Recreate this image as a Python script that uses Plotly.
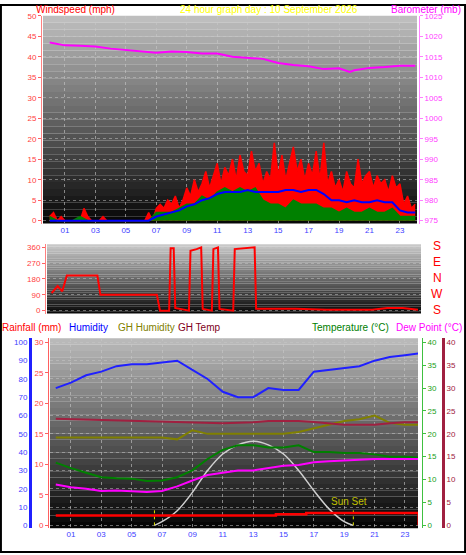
import plotly.graph_objects as go

W, H = 466, 555
def py(p): return 1 - p / H
def px(p): return p / W

# ---------------- data ----------------
gust_t = [i * 0.25 for i in range(97)]
gust = [1,2,0,1, 0,0,0,0, 0,3,1,0, 0,0,1,0, 0,0,0,0, 0,0,0,0, 0,0,2,0,
        3,4,3,5, 4,6,3,5, 8,6,10,7, 9,12,8,11, 14,9,13,11, 15,10,16,12,
        11,17,12,14, 9,12,10,19, 11,16,10,14, 18,12,15,10, 14,11,17,10,
        19,9,12,8, 10,7,12,9, 8,15,9,11, 12,8,11,9, 10,7,11,8, 9,4,6,3, 4]
half_t = [i * 0.5 for i in range(49)]
avg_speed = [1,0,0,0,1,0,0,0,0,0,0,0,0,0,2,2,2,3,4,4,6,5,7,8,7,8,7,8,5,4,4,3,5,4,4,4,3,3,2,3,2,2,3,2,2,3,1,1,1]
avg_line = [0,0,0,0,0,0,0,0,0,0,0,0,0,0,1,1.5,2,2.5,3.5,4,5,5.5,6.5,7,7,7,7.5,7,7,7,7,7.5,7.5,7,7.5,7.5,6.5,5,5,4.5,5,4.5,4.5,5,4.5,4.5,2.5,2,2]
baro_t = [0,1,2,3,4,5,6,7,8,9,10,11,12,13,14,15,16,17,18,19,19.7,20,21,22,23,24]
baro = [1018.5,1017.8,1017.7,1017.5,1017,1016.7,1016.3,1016,1016.3,1016.2,1015.8,1015.8,1015,1014.8,1014.5,1013.5,1013,1012.7,1012,1012.2,1011.3,1011.7,1012.3,1012.5,1012.8,1012.8]

dir_t = [0,0.4,0.7,1,3,3.2,6.9,7.1,7.7,7.8,8,8.1,9,9.1,9.5,9.8,9.9,10.5,10.6,10.9,11,11.9,12,13,13.3,13.4,16,18,21,22,23,24]
wdir = [100,140,110,200,200,90,90,0,0,355,355,15,0,340,350,360,10,0,350,360,10,0,350,360,360,10,10,5,5,15,15,5]

hours = list(range(25))
humidity = [75,78,82,84,87,88,88,89,90,85,80,73,70,70,75,74,74,84,85,86,87,90,92,93,94]
gh_hum = [48,48,48,48,48,48,48,48,47,52,50,50,50,50,50,50,51,53,55,57,58,60,56,55,55]
gh_temp = [23.3,23.2,23.1,23,22.9,22.8,22.8,22.7,22.6,22.5,22.3,22.3,22.4,22.5,22.8,22.8,22.8,22.6,22.3,22,22,22,22.3,22.5,22.5]
temp = [13.7,12.5,11.5,10.5,10.3,10.2,9.7,9.8,10.5,12,14.5,16.5,17.5,17.5,17,17,17.5,16,16,15.8,15.8,15.5,15,15,14.8]
dew = [8.9,8.3,8,7.5,7.6,7.5,7.3,7.5,8.5,9.8,11,11.5,12,12,12.5,13,13.2,13.8,14,14.2,14.3,14.5,14.5,14.5,14.5]
rain_t = [0,14.5,16.5,23.9,23.9]
rain = [1.6,1.8,2.0,2.0,0]
solar_t = [6.5,7,8,9,10,11,12,13,14,15,16,17,18,19,19.6]
solar = [0,2,8,18,30,39,44,46,44,39,30,19,9,2,0]
sun_events = [6.5, 19.6]

odd = list(range(1, 24, 2))
odd_txt = ["%02d" % h for h in odd]

fig = go.Figure()
FONT = "Liberation Sans"

# top panel
fig.add_trace(go.Scatter(x=gust_t, y=gust, xaxis="x", yaxis="y", mode="lines", line=dict(color="#ff0000", width=1.5), fill="tozeroy", fillcolor="#ff0000"))
fig.add_trace(go.Scatter(x=half_t, y=avg_speed, xaxis="x", yaxis="y", mode="lines", line=dict(color="#008000", width=1.5), fill="tozeroy", fillcolor="#008000"))
fig.add_trace(go.Scatter(x=half_t, y=avg_line, xaxis="x", yaxis="y", mode="lines", line=dict(color="#0000ff", width=2)))
fig.add_trace(go.Scatter(x=baro_t, y=baro, xaxis="x", yaxis="y2", mode="lines", line=dict(color="#ff00ff", width=2)))
# middle
fig.add_trace(go.Scatter(x=dir_t, y=wdir, xaxis="x2", yaxis="y3", mode="lines", line=dict(color="#ff0000", width=2)))
# bottom
fig.add_trace(go.Scatter(x=hours, y=humidity, xaxis="x3", yaxis="y4", mode="lines", line=dict(color="#2020ff", width=2)))
fig.add_trace(go.Scatter(x=hours, y=gh_hum, xaxis="x3", yaxis="y4", mode="lines", line=dict(color="#808000", width=2)))
fig.add_trace(go.Scatter(x=solar_t, y=solar, xaxis="x3", yaxis="y4", mode="lines", line=dict(color="#d0d0d0", width=1.5, shape="spline")))
for s in sun_events:
    fig.add_trace(go.Scatter(x=[s, s], y=[0, 9], xaxis="x3", yaxis="y4", mode="lines", line=dict(color="#e0e000", width=1, dash="dot")))
fig.add_trace(go.Scatter(x=hours, y=gh_temp, xaxis="x3", yaxis="y7", mode="lines", line=dict(color="#a02040", width=2)))
fig.add_trace(go.Scatter(x=hours, y=temp, xaxis="x3", yaxis="y6", mode="lines", line=dict(color="#008000", width=2)))
fig.add_trace(go.Scatter(x=hours, y=dew, xaxis="x3", yaxis="y6", mode="lines", line=dict(color="#ff00ff", width=2)))
fig.add_trace(go.Scatter(x=rain_t, y=rain, xaxis="x3", yaxis="y5", mode="lines", line=dict(color="#ff0000", width=2.5, shape="hv")))

# gradient backgrounds
shapes = []
def grad(xr, yr, top, bot, n=30):
    for i in range(n):
        f = i / (n - 1)
        v = int(top + (bot - top) * f)
        shapes.append(dict(type="rect", xref=xr + " domain", yref=yr + " domain", x0=0, x1=1,
                           y0=1 - (i + 1) / n, y1=1 - i / n, fillcolor="rgb(%d,%d,%d)" % (v, v, v),
                           line=dict(width=0), layer="below"))
grad("x", "y", 190, 8)
grad("x2", "y3", 200, 10)
grad("x3", "y4", 185, 5)
shapes.append(dict(type="rect", xref="paper", yref="paper", x0=0.002, x1=0.998, y0=0.002, y1=0.998, line=dict(color="black", width=2)))

gx = dict(showgrid=True, gridcolor="rgba(200,200,200,0.6)", griddash="dot", gridwidth=1, zeroline=False)
tickf = lambda c: dict(family=FONT, size=8, color=c)

fig.update_layout(
    width=W, height=H, margin=dict(l=0, r=0, t=0, b=0), showlegend=False,
    paper_bgcolor="white", plot_bgcolor="rgba(0,0,0,0)", shapes=shapes,
    xaxis=dict(domain=[px(43), px(417)], range=[-0.44, 24.12], anchor="y", tickvals=odd, ticktext=odd_txt,
               tickfont=tickf("#4040ff"), ticks="", **gx),
    yaxis=dict(domain=[py(222), py(12)], range=[-0.72, 50.0], anchor="free", position=px(41), dtick=5,
               tickfont=tickf("#ff4040"), ticks="outside", ticklen=3, tickcolor="#ff6060", showline=True,
               linecolor="#ff8080", griddash="dot", gridcolor="rgba(200,200,200,0.5)", zeroline=False),
    yaxis2=dict(overlaying="y", side="right", anchor="free", position=px(419), range=[974.28, 1025.0], dtick=5,
                tickfont=tickf("#ff40ff"), ticks="outside", ticklen=3, tickcolor="#ff80ff", showline=True,
                linecolor="#ff80ff", showgrid=False, zeroline=False),
    xaxis2=dict(domain=[px(47), px(421)], range=[-0.3, 24.2], anchor="y3", showticklabels=False, ticks="",
                tickvals=odd, showgrid=False, zeroline=False),
    yaxis3=dict(domain=[py(313), py(243)], range=[-17, 377], anchor="free", position=px(45), tickvals=[0, 90, 180, 270, 360],
                tickfont=tickf("#ff4040"), ticks="outside", ticklen=3, tickcolor="#ff6060", showline=True, linecolor="#ff8080",
                gridcolor="rgba(200,200,200,0.5)", griddash="dot", zeroline=False),
    xaxis3=dict(domain=[px(50), px(418)], range=[-0.38, 23.86], anchor="y4", tickvals=odd, ticktext=odd_txt,
                tickfont=tickf("#4040ff"), ticks="", **gx),
    yaxis4=dict(domain=[py(530), py(338)], range=[-1.6, 102.2], anchor="free", position=px(30), dtick=10,
                tickfont=tickf("#4040ff"), ticks="", showline=True, linecolor="#2020ff", linewidth=3,
                gridcolor="rgba(200,200,200,0.5)", griddash="dot", zeroline=False),
    yaxis5=dict(overlaying="y4", anchor="free", position=px(48), side="left", range=[-0.49, 30.65], dtick=5,
                tickfont=tickf("#ff4040"), ticks="outside", ticklen=3, tickcolor="#ff6060", showline=True,
                linecolor="#ff6060", showgrid=False, zeroline=False),
    yaxis6=dict(overlaying="y4", anchor="free", position=px(422), side="right", range=[-0.65, 40.86], dtick=5,
                tickfont=tickf("#20a020"), ticks="outside", ticklen=3, tickcolor="#40c040", showline=True,
                linecolor="#40c040", showgrid=False, zeroline=False),
    yaxis7=dict(overlaying="y4", anchor="free", position=px(443), side="right", range=[-0.65, 40.86], dtick=5,
                tickfont=tickf("#a02040"), ticks="", showline=True, linecolor="#a02040", linewidth=3,
                showgrid=False, zeroline=False),
)

def ann(x, y, t, c, size=10, xa="left"):
    fig.add_annotation(x=px(x), y=py(y), xref="paper", yref="paper", text=t, showarrow=False,
                       font=dict(family=FONT, size=size, color=c), xanchor=xa, yanchor="middle")

ann(34, 6, "Windspeed (mph)", "#ff0000")
ann(178, 6, "24 hour graph day : 10 September 2026", "#ffff00")
ann(463, 6, "Barometer (mb)", "#ff00ff", xa="right")
for i, t in enumerate(["S", "E", "N", "W", "S"]):
    ann(437, 245 + i * 16, t, "#ff0000", size=12, xa="center")
ann(0, 327, "Rainfall (mm)", "#ff0000")
ann(67, 327, "Humidity", "#0000ff")
ann(116, 327, "GH Humidity", "#808000")
ann(176, 327, "GH Temp", "#800020")
ann(310, 327, "Temperature (°C)", "#008000")
ann(464, 327, "Dew Point (°C)", "#ff00ff", xa="right")
fig.add_annotation(x=19.3, y=13, xref="x3", yref="y4", text="Sun Set", showarrow=False,
                   font=dict(family=FONT, size=10, color="#c0c000"))

fig.write_html("out.html", config={"displayModeBar": False},
               post_script="document.body.style.margin='0';document.body.style.overflow='hidden';")
